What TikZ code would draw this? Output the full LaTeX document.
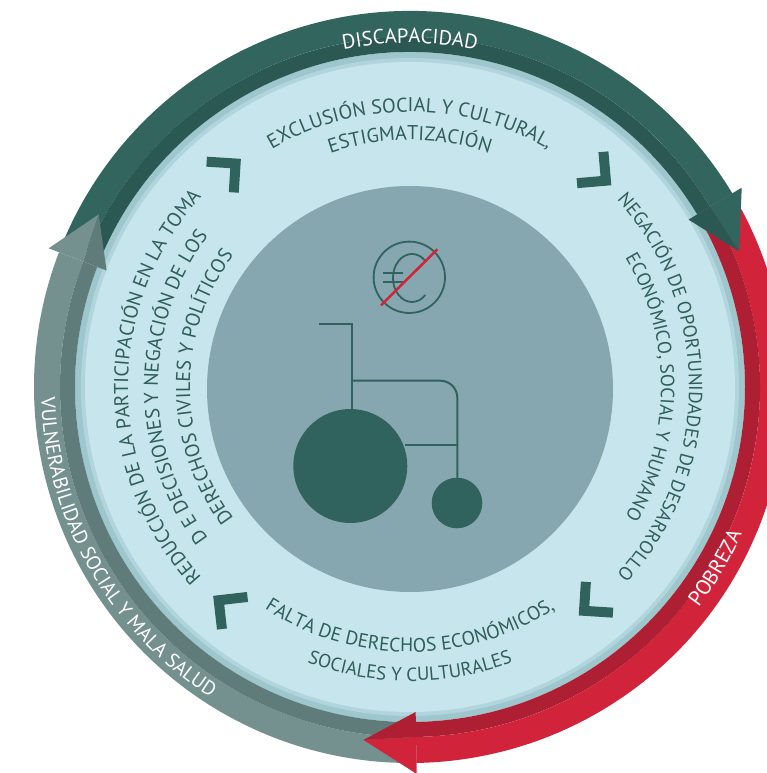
\documentclass[tikz,border=0pt]{standalone}
\usepackage{fontspec}
\setmainfont{PT Sans}
\usetikzlibrary{decorations.text}
\definecolor{tealA}{HTML}{33655F}
\definecolor{tealB}{HTML}{2B5852}
\definecolor{redA}{HTML}{D1243B}
\definecolor{redB}{HTML}{AE1F33}
\definecolor{grayA}{HTML}{74908F}
\definecolor{grayB}{HTML}{5F7B7A}
\definecolor{lblue}{HTML}{C7E5EC}
\definecolor{pale}{HTML}{9DC6CD}
\definecolor{midgray}{HTML}{86A7AF}
\definecolor{ink}{HTML}{2E5F59}
\definecolor{icon}{HTML}{30635D}
% annular band: colour, start angle, end angle, inner r, outer r
\newcommand{\myband}[5]{\fill[#1] (#2:#5pt) arc[start angle=#2, end angle=#3, radius=#5pt] -- (#3:#4pt) arc[start angle=#3, end angle=#2, radius=#4pt] -- cycle;}
% arrow head: light colour, dark colour, base angle, tip angle
\newcommand{\myhead}[4]{\fill[#1] (#3:350pt) -- (#3:387pt) -- (#4:356pt) -- cycle;
  \fill[#2] (#3:350pt) -- (#3:325pt) -- (#4:356pt) -- cycle;}
% clockwise text (tops outward): size, colour, centre angle, radius, text
\newcommand{\cwtext}[5]{\path[decorate, decoration={text along path, text align=center,
  text={|\fontsize{#1}{#1}\selectfont\color{#2}|#5}}] ({#3+90}:#4pt) arc[start angle={#3+90}, end angle={#3-90}, radius=#4pt];}
% counter-clockwise text (tops inward)
\newcommand{\ccwtext}[5]{\path[decorate, decoration={text along path, text align=center,
  text={|\fontsize{#1}{#1}\selectfont\color{#2}|#5}}] ({#3-90}:#4pt) arc[start angle={#3-90}, end angle={#3+90}, radius=#4pt];}
% chevron: polar angle, radius, rotation
\newcommand{\mychev}[3]{\begin{scope}[shift={(#1:#2pt)}, rotate=#3]
  \fill[icon] (17,-17) -- (17,17) -- (7,17) -- (7,-7) -- (-17,-7) -- (-17,-17) -- cycle;
  \end{scope}}
\tikzset{iconline/.style={draw=icon, line width=2pt}}
\begin{document}
\begin{tikzpicture}[x=1pt,y=1pt]
\useasboundingbox (-410,-386) rectangle (356,387);
\fill[white] (-410,-386) rectangle (356,387);
% disk
\fill[pale] (0,0) circle[radius=335pt];
\fill[pale!50!lblue] (0,0) circle[radius=329pt];
\fill[lblue] (0,0) circle[radius=325pt];
\fill[midgray] (0,-2) circle[radius=203pt];
% arrow bodies
\myband{grayA}{-89}{-201}{350}{376}
\myband{grayB}{-89}{-201}{335}{350}
\myband{redA}{31}{-89}{350}{376}
\myband{redB}{31}{-89}{335}{350}
\myband{tealA}{157}{31}{350}{376}
\myband{tealB}{157}{31}{335}{350}
% arrow heads
\myhead{tealA}{tealB}{31}{22.4}
\myhead{redA}{redB}{-89}{-97.5}
\myhead{grayA}{grayB}{-201}{-209}
% ring labels
\cwtext{20.5}{white}{90}{344}{DISCAPACIDAD}
\ccwtext{21}{white}{-30.6}{363}{POBREZA}
\ccwtext{20}{white}{209.5}{369}{VULNERABILIDAD SOCIAL Y MALA SALUD}
% inner texts
\cwtext{20}{ink}{90}{275}{EXCLUSIÓN SOCIAL Y CULTURAL,}
\cwtext{20}{ink}{90}{247}{ESTIGMATIZACIÓN}
\cwtext{19}{ink}{0}{279}{NEGACIÓN DE OPORTUNIDADES DE DESARROLLO}
\cwtext{19}{ink}{0}{251}{ECONÓMICO, SOCIAL Y HUMANO}
\ccwtext{19.5}{ink}{-90}{265}{FALTA DE DERECHOS ECONÓMICOS,}
\ccwtext{19}{ink}{-90}{294}{SOCIALES Y CULTURALES}
\cwtext{20}{ink}{180}{282}{REDUCCIÓN DE LA PARTICIPACIÓN EN LA TOMA}
\cwtext{20}{ink}{180}{252}{D E DECISIONES Y NEGACIÓN DE LOS}
\cwtext{20}{ink}{180}{220}{DERECHOS CIVILES Y POLÍTICOS}
% chevrons
\mychev{131.4}{283}{86.4}
\mychev{49.9}{284}{4.9}
\mychev{-48.7}{283}{-93.7}
\mychev{-128.5}{286}{-173.5}
% euro sign crossed out
\draw[icon, line width=1.8pt] (-0.7,109.7) circle[radius=35.7pt];
\draw[icon, line width=1.8pt] (15.4,126) arc[start angle=45, end angle=315, x radius=19pt, y radius=24pt];
\draw[icon, line width=1.8pt] (-27.3,113.7) -- (-7,113.7);
\draw[icon, line width=1.8pt] (-27.3,105.3) -- (-7,105.3);
\draw[redA, line width=2.5pt] (27.3,137.7) -- (-29,81.7);
% wheelchair
\draw[iconline] (-91,62.7) -- (-57.7,62.7) -- (-57.7,-23);
\draw[iconline, rounded corners=17pt] (-57.7,6.3) -- (47.3,6.3) -- (47.3,-91.3);
\draw[iconline] (-5,-58) -- (47.3,-58);
\fill[icon] (-59.7,-79) circle[radius=57pt];
\fill[icon] (47,-116) circle[radius=25.3pt];
\end{tikzpicture}
\end{document}
